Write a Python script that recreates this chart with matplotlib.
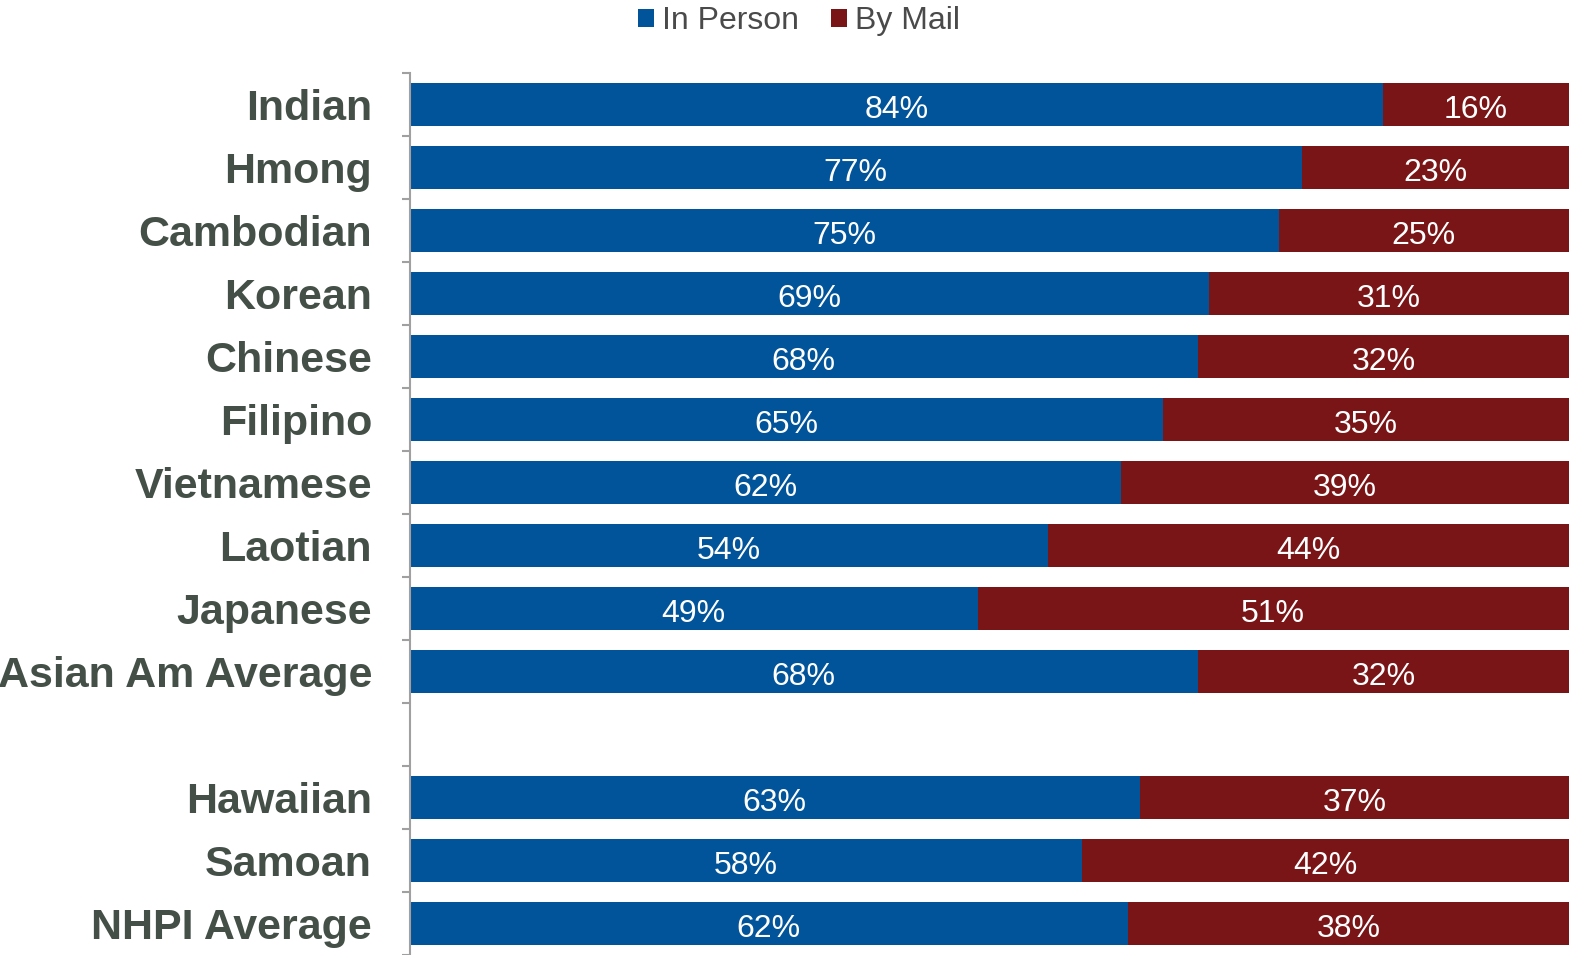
import numpy as np
import matplotlib.pyplot as plt

# --- données ---
groups = ["Indian", "Hmong", "Cambodian", "Korean", "Chinese", "Filipino",
          "Vietnamese", "Laotian", "Japanese", "Asian Am Average",
          "", "Hawaiian", "Samoan", "NHPI Average"]
in_person = [84, 77, 75, 69, 68, 65, 62, 54, 49, 68, None, 63, 58, 62]
by_mail = [16, 23, 25, 31, 32, 35, 39, 44, 51, 32, None, 37, 42, 38]

blue = "#02549A"
red = "#7A1517"
label_color = "#434F47"

plt.rcParams["font.family"] = ["Liberation Sans", "DejaVu Sans"]

fig = plt.figure(figsize=(15.72, 9.55), dpi=100)
ax = fig.add_axes([0.2605, 0.0, 0.7375, 0.9236])

y = np.arange(len(groups))
for i, (p, m) in enumerate(zip(in_person, by_mail)):
    if p is None:
        continue
    # barres empilées à 100 %, étiquettes avec les valeurs brutes
    total = p + m
    sp, sm = p / total, m / total
    ax.barh(i, sp, height=0.67, color=blue, label="In Person" if i == 0 else None)
    ax.barh(i, sm, left=sp, height=0.67, color=red, label="By Mail" if i == 0 else None)
    ax.text(sp / 2, i + 0.03, f"{p}%", color="white", fontsize=23,
            ha="center", va="center_baseline")
    ax.text(sp + sm / 2, i + 0.03, f"{m}%", color="white", fontsize=23,
            ha="center", va="center_baseline")

ax.set_xlim(0, 1)
ax.set_ylim(len(groups) - 0.5, -0.5)

# --- axes ---
for s in ["top", "right", "bottom"]:
    ax.spines[s].set_visible(False)
ax.spines["left"].set_color("#A0A0A0")
ax.spines["left"].set_linewidth(1.5)
ax.set_xticks([])
ax.set_yticks(y)
ax.set_yticklabels(groups, fontsize=31, fontweight="bold", color=label_color)
ax.set_yticks(np.arange(-0.5, len(groups)), minor=True)
ax.tick_params(axis="y", which="major", length=0, pad=27)
ax.tick_params(axis="y", which="minor", length=6, width=1.5, color="#A0A0A0")

# --- légende ---
fig.legend(loc="center", bbox_to_anchor=(0.508, 0.978), ncol=2, frameon=False,
           fontsize=23, handlelength=0.5, handleheight=0.5, handletextpad=0.25,
           columnspacing=1.0, labelcolor="#4A4A4A")

fig.savefig("out.png", dpi=100)
